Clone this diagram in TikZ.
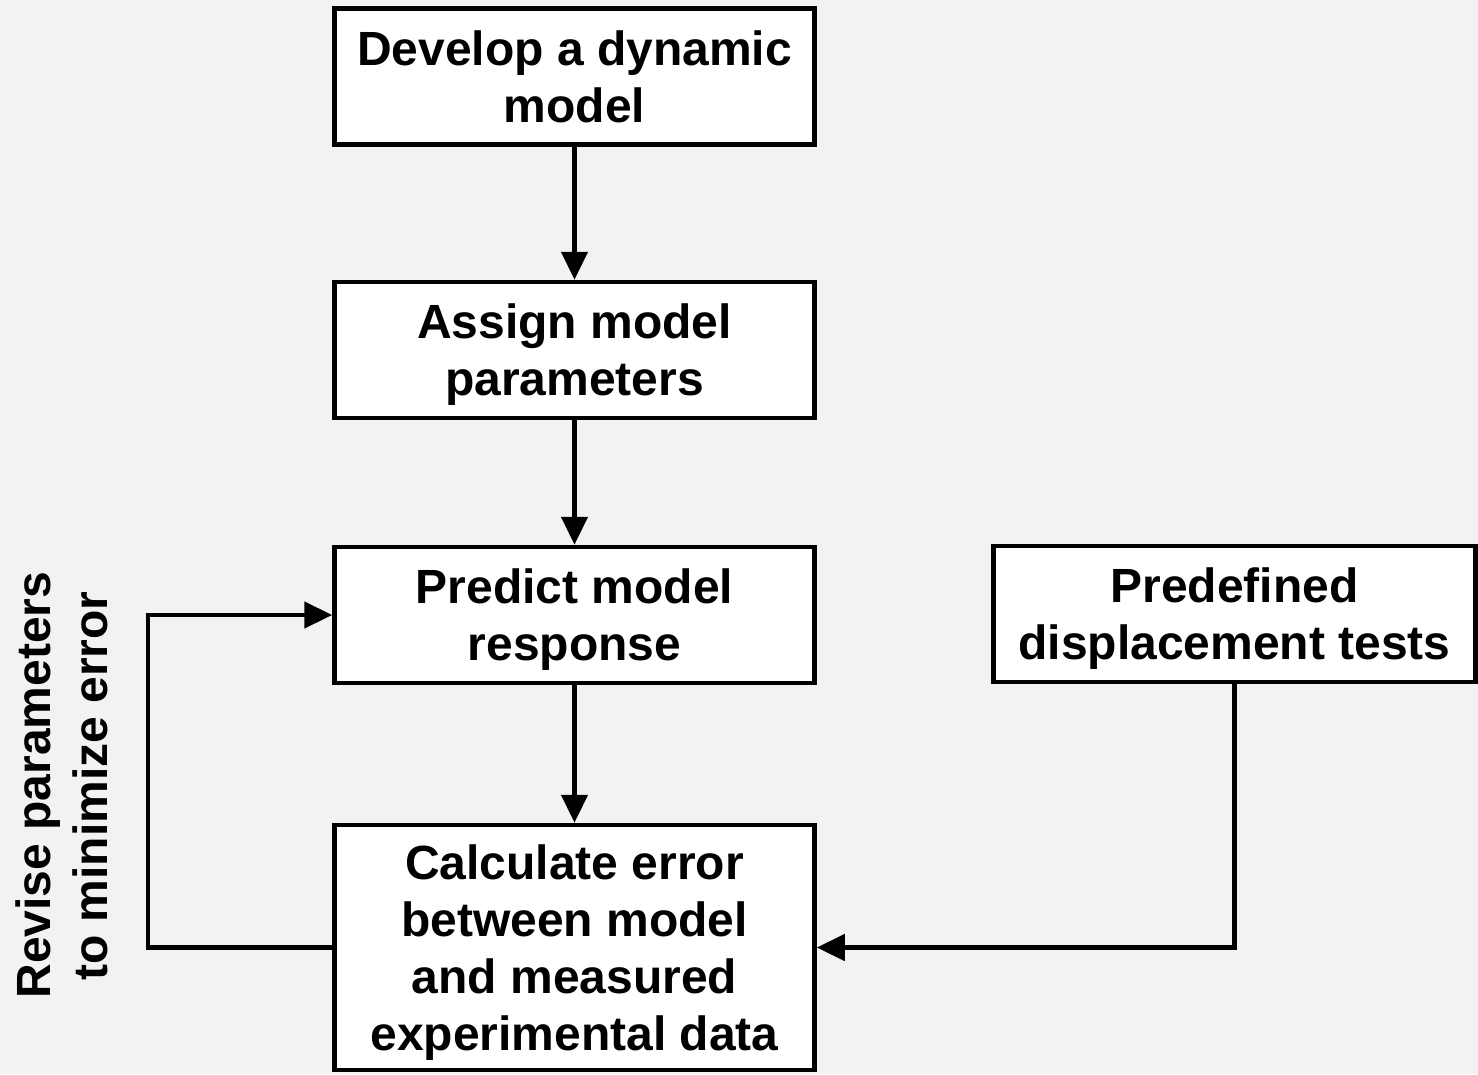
\documentclass[tikz,border=0pt]{standalone}
\usepackage{fontspec}
\setmainfont{Liberation Sans}
\usetikzlibrary{arrows.meta}
\definecolor{bg}{HTML}{F2F2F2}
\begin{document}
\begin{tikzpicture}[x=1pt,y=-1pt,
  stepbox/.style={draw=black,fill=white,line width=4.5pt,inner sep=0pt,
    minimum width=480pt,align=center,text depth=0pt,
    font=\bfseries\fontsize{48}{57}\selectfont},
  arr/.style={line width=4.5pt,-{Triangle[length=28pt,width=26pt]}},
  sidelabel/.style={rotate=90,anchor=base,inner sep=0pt,
    font=\bfseries\fontsize{48}{57}\selectfont}]
\fill[bg] (0,0) rectangle (1478,1074);
\useasboundingbox (0,0) rectangle (1478,1074);

\node[stepbox,minimum height=136pt] (dev) at (574.5,76.5) {Develop a dynamic\\model};
\node[stepbox,minimum height=136pt] (assign) at (574.5,350) {Assign model\\parameters};
\node[stepbox,minimum height=136pt] (predict) at (574.5,615) {Predict model\\response};
\node[stepbox,minimum height=245pt] (calc) at (574.5,947.5) {Calculate error\\between model\\and measured\\experimental data};
\node[stepbox,minimum width=482pt,minimum height=136pt] (tests) at (1234.5,614) {Predefined\\displacement tests};

\node[sidelabel] (lab1) at (50,785) {Revise parameters};
\node[sidelabel] (lab2) at (107,786) {to minimize error};

\draw[arr] (dev) -- (assign);
\draw[arr] (assign) -- (predict);
\draw[arr] (predict) -- (calc);
\coordinate (loopc) at (148,947.5);
\draw[arr] (calc.west) -- (loopc) |- (predict.west);
\draw[arr] (tests.south) |- (calc.east);
\end{tikzpicture}
\end{document}
